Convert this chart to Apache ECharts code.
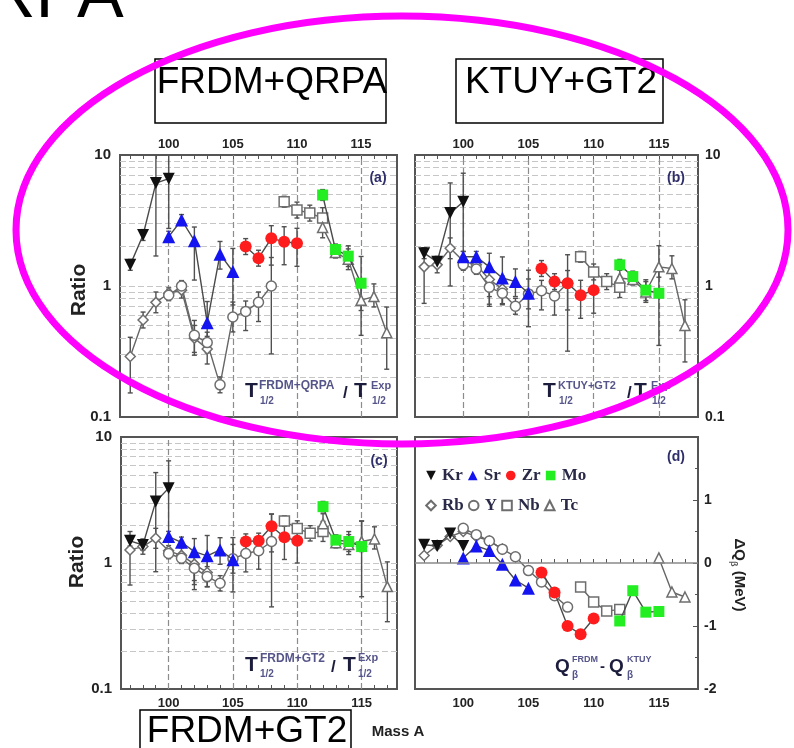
<!DOCTYPE html>
<html>
<head>
<meta charset="utf-8">
<script src="https://cdn.jsdelivr.net/npm/echarts@6/dist/echarts.min.js"></script>
<style>
  html, body { margin: 0; padding: 0; background: #ffffff; }
  #main { width: 794px; height: 748px; }
</style>
</head>
<body>
<div id="main"></div>
<script>
// ---- isotopes (mass numbers) per element ----
const massKr = [97, 98, 99, 100];
const massRb = [97, 98, 99, 100, 101, 102, 103];
const massSr = [100, 101, 102, 103, 104, 105];
const massY  = [100, 101, 102, 103, 104, 105, 106, 107, 108];
const massZr = [106, 107, 108, 109, 110];
const massNb = [109, 110, 111, 112];
const massMo = [112, 113, 114, 115];
const massTc = [112, 113, 114, 115, 116, 117];

// ---- half-life ratios T1/2(model) / T1/2(exp) ----
// (a) FRDM+QRPA
const krA = [1.45, 2.45, 6.1, 6.6];
const rbA = [0.29, 0.55, 0.75, 0.88, 0.93, 0.40, 0.33];
const srA = [2.38, 3.19, 2.22, 0.525, 1.75, 1.29];
const yA  = [0.85, 1.0, 0.42, 0.37, 0.176, 0.58, 0.64, 0.75, 1.0];
const zrA = [2.0, 1.63, 2.31, 2.18, 2.12];
const nbA = [4.4, 3.8, 3.6, 3.3];
const moA = [4.95, 1.9, 1.69, 1.05];
const tcA = [2.8, 1.8, 1.6, 0.78, 0.83, 0.44];
// (b) KTUY+GT2
const krB = [1.78, 1.53, 3.6, 4.4];
const rbB = [1.40, 1.45, 1.94, 1.55, 1.45, 1.12, 0.95];
const srB = [1.67, 1.67, 1.40, 1.15, 1.08, 0.88];
const yB  = [1.45, 1.35, 0.98, 0.88, 0.70, 0.87, 0.92, 0.84, 1.05];
const zrB = [1.36, 1.08, 1.05, 0.85, 0.93];
const nbB = [1.67, 1.28, 1.08, 0.98];
const moB = [1.45, 1.18, 0.93, 0.88];
const tcB = [1.15, 1.12, 0.90, 1.40, 1.36, 0.50];
// (c) FRDM+GT2
const krC = [1.50, 1.39, 3.07, 3.92];
const rbC = [1.27, 1.35, 1.57, 1.25, 1.15, 0.98, 0.84];
const srC = [1.62, 1.46, 1.23, 1.14, 1.27, 1.06];
const yC  = [1.19, 1.09, 0.91, 0.78, 0.69, 1.08, 1.19, 1.25, 1.48];
const zrC = [1.48, 1.50, 1.96, 1.60, 1.50];
const nbC = [2.15, 1.88, 1.72, 1.78];
const moC = [2.8, 1.52, 1.48, 1.35];
const tcC = [2.05, 1.45, 1.40, 1.48, 1.55, 0.65];

// ---- (d) Q-value difference FRDM - KTUY (MeV) ----
const dqKr = [0.29, 0.27, 0.47, 0.27];
const dqRb = [0.12, 0.28, 0.42, 0.50, 0.42, 0.35, 0.22];
const dqSr = [0.08, 0.27, 0.20, -0.02, -0.27, -0.40];
const dqY  = [0.55, 0.45, 0.35, 0.22, 0.10, -0.12, -0.30, -0.52, -0.70];
const dqZr = [-0.15, -0.47, -1.0, -1.13, -0.88];
const dqNb = [-0.38, -0.62, -0.76, -0.74];
const dqMo = [-0.92, -0.44, -0.78, -0.77];
const dqTc = [null, null, null, 0.08, -0.46, -0.54];

// ---- experimental uncertainty as factors below / above each ratio ----
const errLoKr = [1.1, 1.1, 3.6, 2.4],   errHiKr = [1.1, 1.1, 1.7, 1.65];
const errLoRb = [1.9, 1.15, 1.2, 1.1, 1.15, 1.35, 1.3], errHiRb = [1.4, 1.15, 1.2, 1.1, 1.15, 1.25, 1.25];
const errLoSr = [1.1, 1.1, 2.0, 1.6, 1.3, 1.8], errHiSr = [1.1, 1.1, 1.27, 1.45, 1.25, 1.5];
const errLoY  = [1.1, 1.1, 1.35, 1.2, 1.15, 1.3, 1.4, 1.4, 3.3], errHiY = [1.1, 1.1, 1.3, 1.2, 1.15, 1.3, 1.2, 1.2, 1.65];
const errLoZr = [1.15, 1.15, 1.6, 1.5, 1.5], errHiZr = [1.15, 1.15, 1.25, 1.3, 1.3];
const errLoNb = [1.1, 1.15, 1.15, 1.2], errHiNb = [1.1, 1.15, 1.15, 1.2];
const errLoMo = [1.1, 1.1, 1.2, 2.5], errHiMo = [1.1, 1.1, 1.2, 1.6];
const errLoTc = [1.2, 1.1, 1.2, 1.2, 1.2, 1.9], errHiTc = [1.2, 1.1, 1.2, 1.45, 1.25, 1.57];

// ---- axis ticks ----
const massTicks = [97,98,99,100,101,102,103,104,105,106,107,108,109,110,111,112,113,114,115,116,117];
const massLabels = [100, 105, 110, 115];
const logMinor = [0.2,0.3,0.4,0.5,0.6,0.7,0.8,0.9,1,2,3,4,5,6,7,8,9];
const logTicks = [0.1,0.2,0.3,0.4,0.5,0.6,0.7,0.8,0.9,1,2,3,4,5,6,7,8,9,10];

const SANS = '"Liberation Sans", Arial, Helvetica, sans-serif';
const SERIF = '"Liberation Serif", "Times New Roman", serif';

const elements = [
  { name: 'Rb', mass: massRb, ratio: [rbA, rbB, rbC], dq: dqRb, lo: errLoRb, hi: errHiRb, symbol: 'diamond',  size: 10, open: true },
  { name: 'Y',  mass: massY,  ratio: [yA, yB, yC],    dq: dqY,  lo: errLoY,  hi: errHiY,  symbol: 'circle',   size: 10, open: true },
  { name: 'Nb', mass: massNb, ratio: [nbA, nbB, nbC], dq: dqNb, lo: errLoNb, hi: errHiNb, symbol: 'rect',     size: 10, open: true },
  { name: 'Tc', mass: massTc, ratio: [tcA, tcB, tcC], dq: dqTc, lo: errLoTc, hi: errHiTc, symbol: 'triangle', size: 10, open: true },
  { name: 'Kr', mass: massKr, ratio: [krA, krB, krC], dq: dqKr, lo: errLoKr, hi: errHiKr, symbol: 'triangle', size: 12, rotate: 180, color: '#111111' },
  { name: 'Sr', mass: massSr, ratio: [srA, srB, srC], dq: dqSr, lo: errLoSr, hi: errHiSr, symbol: 'triangle', size: 13, color: '#1414f0' },
  { name: 'Zr', mass: massZr, ratio: [zrA, zrB, zrC], dq: dqZr, lo: errLoZr, hi: errHiZr, symbol: 'circle',   size: 12, color: '#ff1c1c' },
  { name: 'Mo', mass: massMo, ratio: [moA, moB, moC], dq: dqMo, lo: errLoMo, hi: errHiMo, symbol: 'rect',     size: 11, color: '#22ee22' }
];

// panel frames (a) (b) (c) (d)
const frames = [
  { left: 120, top: 155, width: 277, height: 262 },
  { left: 415, top: 155, width: 283, height: 262 },
  { left: 121, top: 437, width: 276, height: 252 },
  { left: 415, top: 437, width: 283, height: 252 }
];
const xRange = [[96.2, 117.8], [96.3, 118.0], [96.3, 117.75], [96.3, 118.0]];

const grid = frames.map(f => Object.assign({
  show: true, borderColor: '#555555', borderWidth: 2,
  backgroundColor: 'rgba(0,0,0,0)', outerBoundsMode: 'none', containLabel: false
}, f));

const xAxis = frames.map((f, p) => ({
  type: 'value', gridIndex: p, min: xRange[p][0], max: xRange[p][1],
  position: p < 2 ? 'top' : 'bottom',
  axisLine: { show: false },
  axisTick: { show: true, inside: true, length: 4, customValues: massTicks, lineStyle: { color: '#555', width: 1 } },
  axisLabel: { customValues: massLabels, fontFamily: SANS, fontWeight: 'bold', fontSize: 13, color: '#222', margin: p < 2 ? 4 : 8 },
  splitLine: { show: false }
}));

const yAxis = frames.map((f, p) => {
  if (p < 3) {
    return {
      type: 'log', logBase: 10, gridIndex: p, min: 0.1, max: 10,
      position: p === 1 ? 'right' : 'left',
      axisLine: { show: false },
      axisTick: { show: true, inside: true, length: 4, customValues: logTicks, lineStyle: { color: '#555' } },
      axisLabel: { fontFamily: SANS, fontWeight: 'bold', fontSize: p === 1 ? 14 : 15, color: '#222', margin: p === 1 ? 7 : 9,
                   formatter: v => String(+v.toPrecision(3)) },
      splitLine: { show: false }
    };
  }
  return {
    type: 'value', gridIndex: p, min: -2, max: 2, interval: 1, position: 'right',
    axisLine: { show: false },
    axisTick: { show: true, inside: true, length: 5, lineStyle: { color: '#555' } },
    minorTick: { show: true, splitNumber: 2, length: 3, lineStyle: { color: '#555' } },
    axisLabel: { fontFamily: SANS, fontWeight: 'bold', fontSize: 14, color: '#222', margin: 6,
                 formatter: v => (v === 2 ? '' : String(v)) },
    splitLine: { show: false }
  };
});

// vertical error bar with short caps
function errorBar(params, api) {
  const x = api.value(0), lo = api.value(1), hi = api.value(2);
  const a = api.coord([x, lo]), b = api.coord([x, hi]);
  const w = 2.5;
  const st = { stroke: '#505050', lineWidth: 1.4 };
  return {
    type: 'group',
    children: [
      { type: 'line', shape: { x1: a[0], y1: a[1], x2: b[0], y2: b[1] }, style: st },
      { type: 'line', shape: { x1: a[0] - w, y1: a[1], x2: a[0] + w, y2: a[1] }, style: st },
      { type: 'line', shape: { x1: b[0] - w, y1: b[1], x2: b[0] + w, y2: b[1] }, style: st }
    ]
  };
}

const series = [];
for (let p = 0; p < 4; p++) {
  if (p < 3) {
    series.push({
      type: 'line', name: 'grid' + p, xAxisIndex: p, yAxisIndex: p, data: [], silent: true, z: 1,
      markLine: {
        silent: true, symbol: ['none', 'none'], label: { show: false }, animation: false, z: 1,
        emphasis: { disabled: true },
        data: logMinor.map(v => ({ yAxis: v, lineStyle: { color: '#c6c6c6', type: [6, 3], width: 1 } }))
          .concat(massLabels.map(v => ({ xAxis: v, lineStyle: { color: '#8c8c8c', type: [6, 3], width: 1.2 } })))
      }
    });
    const bars = [];
    elements.forEach(el => el.mass.forEach((m, i) => {
      const v = el.ratio[p][i];
      if (v != null) bars.push([m, v / el.lo[i], v * el.hi[i]]);
    }));
    series.push({ type: 'custom', name: 'err' + p, xAxisIndex: p, yAxisIndex: p, data: bars,
      renderItem: errorBar, clip: true, silent: true, z: 2 });
  } else {
    series.push({
      type: 'line', name: 'zero', xAxisIndex: p, yAxisIndex: p, data: [], silent: true, z: 1,
      markLine: {
        silent: true, symbol: ['none', 'none'], label: { show: false }, animation: false,
        emphasis: { disabled: true },
        data: [{ yAxis: 0, lineStyle: { color: '#8a8a8a', type: 'solid', width: 1.6 } }]
      }
    });
  }
  elements.forEach(el => {
    const vals = p < 3 ? el.ratio[p] : el.dq;
    series.push({
      type: 'line', name: el.name, xAxisIndex: p, yAxisIndex: p,
      data: el.mass.map((m, i) => [m, vals[i]]),
      symbol: el.symbol, symbolSize: el.size, symbolRotate: el.rotate || 0,
      showAllSymbol: true, connectNulls: false, clip: true,
      lineStyle: { color: el.open ? '#666666' : '#4a4a4a', width: 1.4 },
      itemStyle: el.open
        ? { color: '#ffffff', borderColor: '#6e6e6e', borderWidth: 1.5 }
        : { color: el.color, borderWidth: 0 },
      emphasis: { disabled: true },
      z: el.open ? 3 : 4
    });
  });
}

const legendText = { fontFamily: SERIF, fontWeight: 'bold', fontSize: 17, color: '#2a2a48', width: 34 };
const legend = [
  { data: ['Kr', 'Sr', 'Zr', 'Mo'], left: 419, top: 462, orient: 'horizontal',
    itemWidth: 12, itemHeight: 12, itemGap: 3, selectedMode: false, textStyle: legendText,
    lineStyle: { opacity: 0 }, symbolRotate: 'inherit' },
  { data: ['Rb', 'Y', 'Nb', 'Tc'], left: 419, top: 492, orient: 'horizontal',
    itemWidth: 12, itemHeight: 12, itemGap: 3, selectedMode: false, textStyle: legendText,
    lineStyle: { opacity: 0 } }
];

function t(x, y, text, size, extra) {
  return Object.assign({
    type: 'text', x: x, y: y, silent: true, z: 50,
    style: Object.assign({ text: text, fontFamily: SANS, fontWeight: 'bold', fontSize: size,
      fill: '#1c1c3c', align: 'left', verticalAlign: 'middle' }, (extra && extra.style) || {})
  }, extra && extra.rotation !== undefined ? { rotation: extra.rotation } : {});
}
const supC = { style: { fill: '#55558a' } };

const graphic = [
  // panel tags
  t(378, 178, '(a)', 14, { style: { align: 'center', fill: '#2e2e6a' } }),
  t(676, 178, '(b)', 14, { style: { align: 'center', fill: '#2e2e6a' } }),
  t(379, 461, '(c)', 14, { style: { align: 'center', fill: '#2e2e6a' } }),
  t(676, 457, '(d)', 14, { style: { align: 'center', fill: '#2e2e6a' } }),
  // (a) formula
  t(245, 391, 'T', 21), t(259, 386, 'FRDM+QRPA', 12, supC), t(260, 401, '1/2', 10, supC),
  t(343, 393, '/', 17), t(354, 391, 'T', 21), t(371, 386, 'Exp', 11, supC), t(372, 401, '1/2', 10, supC),
  // (b) formula
  t(543, 391, 'T', 21), t(558, 386, 'KTUY+GT2', 11, supC), t(559, 401, '1/2', 10, supC),
  t(627, 393, '/', 17), t(634, 391, 'T', 21), t(651, 386, 'Exp', 11, supC), t(652, 401, '1/2', 10, supC),
  // (c) formula
  t(245, 665, 'T', 21), t(260, 659, 'FRDM+GT2', 12, supC), t(260, 674, '1/2', 10, supC),
  t(331, 667, '/', 17), t(343, 665, 'T', 21), t(358, 658, 'Exp', 11, supC), t(358, 674, '1/2', 10, supC),
  // (d) formula
  t(555, 667, 'Q', 19), t(572, 660, 'FRDM', 9, supC), t(572, 675, 'β', 10, supC),
  t(600, 667, '-', 15), t(609, 667, 'Q', 19), t(627, 660, 'KTUY', 9, supC), t(627, 675, 'β', 10, supC),
  // axis titles
  t(79, 290, 'Ratio', 21, { rotation: Math.PI / 2, style: { align: 'center', fill: '#222' } }),
  t(77, 562, 'Ratio', 21, { rotation: Math.PI / 2, style: { align: 'center', fill: '#222' } }),
  t(398, 732, 'Mass A', 15, { style: { align: 'center', fill: '#222' } }),
  {
    type: 'text', x: 739, y: 575, rotation: -Math.PI / 2, silent: true, z: 50,
    style: {
      text: '{m|ΔQ}{s|β}{m| (MeV)}', align: 'center', verticalAlign: 'middle',
      rich: {
        m: { fontFamily: SANS, fontWeight: 'bold', fontSize: 15, fill: '#222', lineHeight: 20 },
        s: { fontFamily: SANS, fontWeight: 'bold', fontSize: 9, fill: '#555', verticalAlign: 'bottom', lineHeight: 20 }
      }
    }
  },
  // model boxes
  { type: 'rect', shape: { x: 155, y: 59, width: 231, height: 64 }, style: { fill: 'none', stroke: '#000', lineWidth: 1.5 }, z: 60, silent: true },
  { type: 'text', x: 272, y: 83, z: 61, silent: true,
    style: { text: 'FRDM+QRPA', fontFamily: SANS, fontSize: 37, fill: '#000', align: 'center', verticalAlign: 'middle' } },
  { type: 'rect', shape: { x: 456, y: 59, width: 207, height: 64 }, style: { fill: 'none', stroke: '#000', lineWidth: 1.5 }, z: 60, silent: true },
  { type: 'text', x: 561, y: 83, z: 61, silent: true,
    style: { text: 'KTUY+GT2', fontFamily: SANS, fontSize: 37, fill: '#000', align: 'center', verticalAlign: 'middle' } },
  { type: 'rect', shape: { x: 140, y: 710, width: 211, height: 60 }, style: { fill: 'none', stroke: '#000', lineWidth: 1.5 }, z: 60, silent: true },
  { type: 'text', x: 247, y: 732, z: 61, silent: true,
    style: { text: 'FRDM+GT2', fontFamily: SANS, fontSize: 37, fill: '#000', align: 'center', verticalAlign: 'middle' } },
  // heading fragment at the top edge
  { type: 'text', x: -15, y: -2, z: 61, silent: true,
    style: { text: 'RPA', fontFamily: SANS, fontSize: 70, fill: '#000', align: 'left', verticalAlign: 'middle' } },
  // highlight ring
  { type: 'ellipse', shape: { cx: 402, cy: 230, rx: 386, ry: 214 }, z: 100, silent: true,
    style: { fill: 'none', stroke: '#ff00ff', lineWidth: 7 } }
];

const chart = echarts.init(document.getElementById('main'), null, { renderer: 'canvas', width: 794, height: 748 });
chart.setOption({
  animation: false,
  backgroundColor: '#ffffff',
  grid: grid,
  xAxis: xAxis,
  yAxis: yAxis,
  legend: legend,
  series: series,
  graphic: graphic
});
</script>
</body>
</html>
